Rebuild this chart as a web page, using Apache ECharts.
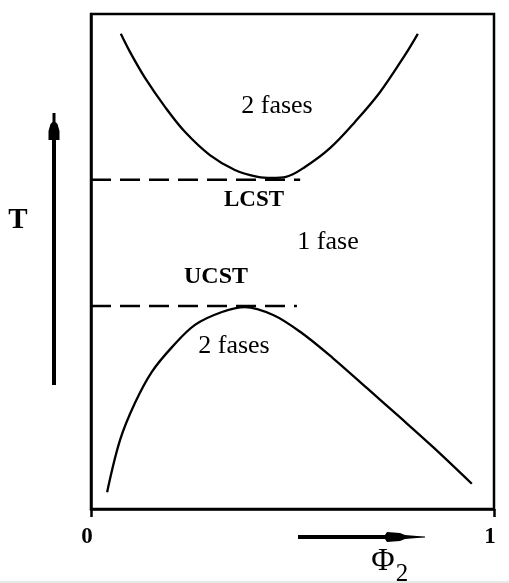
<!DOCTYPE html>
<html>
<head>
<meta charset="utf-8">
<script src="https://cdn.jsdelivr.net/npm/echarts@6/dist/echarts.min.js"></script>
<style>
  html, body { margin: 0; padding: 0; background: #fff; }
  #chart { width: 509px; height: 583px; }
</style>
</head>
<body>
<div id="chart"></div>
<script>
// phi2 / T pairs (both axes 0..1)
const lcstCurve = [
  [0.074, 0.960], [0.097, 0.923], [0.134, 0.871], [0.184, 0.812],
  [0.233, 0.762], [0.295, 0.715], [0.357, 0.685], [0.414, 0.671],
  [0.449, 0.669], [0.484, 0.671], [0.531, 0.691], [0.593, 0.729],
  [0.655, 0.782], [0.717, 0.842], [0.779, 0.917], [0.811, 0.960]
];
const ucstCurve = [
  [0.040, 0.034], [0.072, 0.139], [0.109, 0.214], [0.151, 0.277],
  [0.201, 0.327], [0.258, 0.372], [0.325, 0.398], [0.382, 0.408],
  [0.452, 0.392], [0.519, 0.358], [0.600, 0.305], [0.685, 0.244],
  [0.767, 0.185], [0.849, 0.125], [0.945, 0.051]
];
const lcstLine = [[0, 0.665], [0.519, 0.665]];
const ucstLine = [[0, 0.410], [0.511, 0.410]];
const xTicks = [0, 1];

const serif = '"Liberation Serif", "DejaVu Serif", serif';
const chart = echarts.init(document.getElementById('chart'), null, { renderer: 'canvas' });

function curve(data) {
  return {
    type: 'line', data, smooth: 0.35, symbol: 'none', silent: true,
    lineStyle: { color: '#000', width: 2.3 }
  };
}
function dashed(data) {
  return {
    type: 'line', data, symbol: 'none', silent: true,
    lineStyle: { color: '#000', width: 2.5, type: [20, 9] }
  };
}
function label(text, x, y, size, bold) {
  return {
    type: 'text', x, y,
    style: {
      text, fill: '#000', align: 'center', verticalAlign: 'middle',
      font: (bold ? 'bold ' : '') + size + 'px ' + serif
    }
  };
}

chart.setOption({
  animation: false,
  grid: {
    left: 91, right: 15, top: 14, bottom: 74,
    show: true, borderColor: '#000', borderWidth: 2.5
  },
  xAxis: {
    type: 'value', min: 0, max: 1, interval: 1,
    axisLine: { show: true, lineStyle: { color: '#000', width: 2.5 } },
    axisTick: { show: true, length: 8, lineStyle: { color: '#000', width: 2.5 } },
    splitLine: { show: false },
    axisLabel: {
      margin: 17, color: '#000', fontFamily: serif, fontWeight: 'bold', fontSize: 23,
      padding: [0, 8, 0, 0],
      formatter: v => xTicks.includes(v) ? String(v) : ''
    }
  },
  yAxis: {
    type: 'value', min: 0, max: 1,
    axisLine: { show: true, lineStyle: { color: '#000', width: 2.5 } },
    axisTick: { show: false }, axisLabel: { show: false }, splitLine: { show: false }
  },
  series: [curve(lcstCurve), curve(ucstCurve), dashed(lcstLine), dashed(ucstLine)],
  graphic: [
    label('2 fases', 277, 106, 26, false),
    label('LCST', 254, 200, 23, true),
    label('1 fase', 328, 242, 26, false),
    label('UCST', 216, 277, 24, true),
    label('2 fases', 234, 346, 26, false),
    label('T', 18, 221, 29, true),
    label('Φ', 383, 562, 32, false),
    label('2', 402, 574, 25, false),
    // T arrow
    {
      type: 'polygon',
      shape: { points: [[52.5, 113], [55.5, 113], [55.5, 122], [57.5, 124], [59.5, 131], [59.5, 140], [56, 140],
        [56, 385], [52, 385], [52, 140], [48.5, 140], [48.5, 131], [50.5, 124], [52.5, 122]] },
      style: { fill: '#000' }
    },
    // phi2 arrow
    {
      type: 'polygon',
      shape: { points: [[298, 535], [385, 535], [387, 532], [400, 533], [405, 535], [417, 536], [425, 536.5],
        [425, 537.5], [417, 538], [405, 539], [400, 541], [387, 542], [385, 539], [298, 539]] },
      style: { fill: '#000' }
    },
    { type: 'rect', shape: { x: 0, y: 581, width: 509, height: 2 }, style: { fill: '#e8e8e8' } }
  ]
});
</script>
</body>
</html>
